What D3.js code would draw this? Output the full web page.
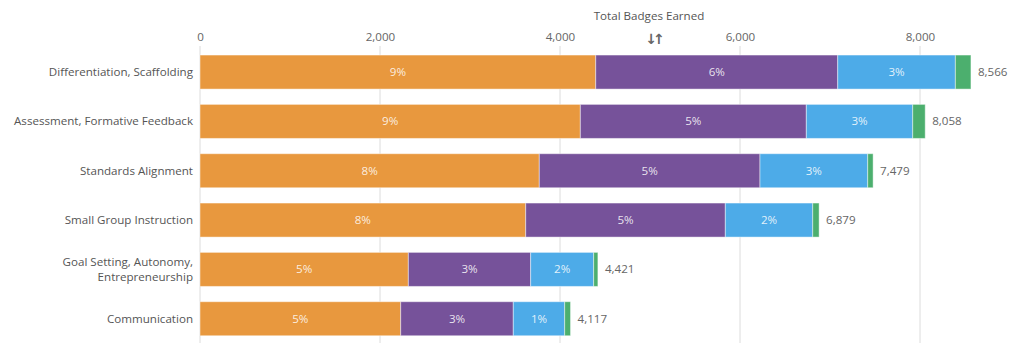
<!DOCTYPE html>
<html><head><meta charset="utf-8">
<script src="https://cdn.jsdelivr.net/npm/d3@7"></script>
<style>
html,body{margin:0;padding:0;background:#fff;}
svg{display:block;font-family:"Open Sans",sans-serif;}
</style></head>
<body><svg id="c" width="1024" height="355"></svg>
<script>
const categories = ["Differentiation, Scaffolding","Assessment, Formative Feedback","Standards Alignment","Small Group Instruction","Goal Setting, Autonomy, Entrepreneurship","Communication"];
const seriesA = [4397, 4226, 3770, 3619, 2315, 2230];
const seriesB = [2689, 2511, 2452, 2218, 1359, 1251];
const seriesC = [1307, 1182, 1197, 971, 700, 571];
const seriesD = [173, 139, 60, 71, 47, 65];
const labelsA = ["9%","9%","8%","8%","5%","5%"];
const labelsB = ["6%","5%","5%","5%","3%","3%"];
const labelsC = ["3%","3%","3%","2%","2%","1%"];
const totals = [8566, 8058, 7479, 6879, 4421, 4117];
const tickValues = [0, 2000, 4000, 6000, 8000];
const colors = ["#E8983E","#76529A","#4DABE8","#4CAF6E"];

const FS = 11.6;
const svg = d3.select("#c");
const x = d3.scaleLinear().domain([0, 2000]).range([200, 380]);
const y = d3.scaleBand().domain(categories).range([47.4, 343.4]).paddingInner(0.31).paddingOuter(0.155);

// title
svg.append("text").attr("x", 649).attr("y", 20).attr("text-anchor","middle")
  .attr("font-size", FS).attr("fill", "#555").text("Total Badges Earned");
svg.append("text").attr("x", 653).attr("y", 44).attr("text-anchor","middle")
  .attr("font-size", 14).attr("fill", "#666").attr("font-weight", "bold").attr("font-family","DejaVu Sans")
  .attr("letter-spacing", "-4").text("\u2193\u2191");

// grid
svg.append("g").selectAll("line").data(tickValues).join("line")
  .attr("x1", d => x(d)).attr("x2", d => x(d))
  .attr("y1", 46).attr("y2", 343)
  .attr("stroke", "#dcdcdc").attr("stroke-width", 1);

// top axis
const axis = d3.axisTop(x).tickValues(tickValues).tickFormat(d3.format(",")).tickSize(0).tickPadding(0);
const ag = svg.append("g").attr("transform", "translate(0,41)").call(axis);
ag.select(".domain").remove();
ag.selectAll("text").attr("font-size", FS).attr("fill", "#666").attr("font-family","Open Sans");

// stacks
const series = [seriesA, seriesB, seriesC, seriesD];
const labels = [labelsA, labelsB, labelsC, null];
const rows = categories.map((c, i) => {
  let acc = 0;
  return series.map((s, k) => { const x0 = acc; acc += s[i]; return {cat: c, k, x0, x1: acc, label: labels[k] ? labels[k][i] : null}; });
});
const gBars = svg.append("g");
rows.forEach(segs => {
  gBars.selectAll(null).data(segs).join("rect")
    .attr("x", d => x(d.x0)).attr("width", d => x(d.x1) - x(d.x0))
    .attr("y", d => y(d.cat)).attr("height", y.bandwidth())
    .attr("fill", d => colors[d.k])
    .attr("stroke", "rgba(255,255,255,0.45)").attr("stroke-width", 1);
  gBars.selectAll(null).data(segs.filter(d => d.label)).join("text")
    .attr("x", d => (x(d.x0) + x(d.x1)) / 2).attr("y", d => y(d.cat) + y.bandwidth()/2 + 4)
    .attr("text-anchor", "middle").attr("font-size", FS)
    .attr("fill", "rgba(255,255,255,0.85)").text(d => d.label);
});

// totals
svg.append("g").selectAll("text").data(categories).join("text")
  .attr("x", (d, i) => x(totals[i]) + 7).attr("y", d => y(d) + y.bandwidth()/2 + 4)
  .attr("font-size", FS).attr("fill", "#666").text((d, i) => d3.format(",")(totals[i]));

// category labels
const cl = svg.append("g").selectAll("text").data(categories).join("text")
  .attr("text-anchor", "end").attr("font-size", FS).attr("fill", "#555")
  .attr("transform", d => `translate(193,${y(d) + y.bandwidth()/2 + 4})`);
cl.each(function(d) {
  const t = d3.select(this);
  if (d === "Goal Setting, Autonomy, Entrepreneurship") {
    t.append("tspan").attr("x", 0).attr("dy", -7).text("Goal Setting, Autonomy,");
    t.append("tspan").attr("x", 0).attr("dy", 14.5).text("Entrepreneurship");
  } else {
    t.text(d);
  }
});
</script></body></html>
